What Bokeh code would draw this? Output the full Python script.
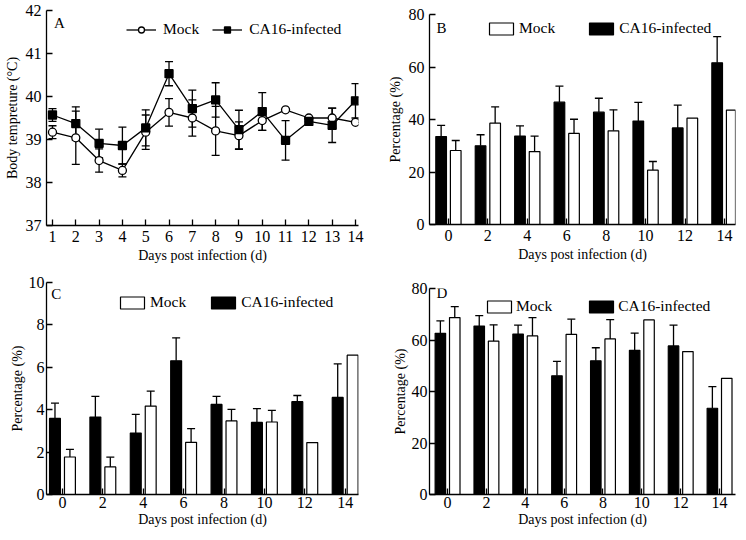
import numpy as np
from bokeh.plotting import figure
from bokeh.models import (ColumnDataSource, Whisker, TeeHead, Legend, LegendItem,
                          FixedTicker, Label, Range1d)
from bokeh.layouts import column, row
from bokeh.embed import file_html
from bokeh.resources import INLINE

FONT = "Liberation Serif"

# ---------------- data ----------------
# Panel A: body temperature (°C)
days_a = list(range(1, 15))
mock_temp = [39.17, 39.04, 38.51, 38.28, 39.17, 39.63, 39.50, 39.20, 39.09, 39.44, 39.69, 39.50, 39.50, 39.40]
mock_temp_sd = [0.15, 0.62, 0.27, 0.15, 0.40, 0.32, 0.42, 0.57, 0.32, 0.23, 0.0, 0.0, 0.23, 0.0]
ca16_temp = [39.57, 39.37, 38.91, 38.86, 39.27, 40.53, 39.72, 39.92, 39.23, 39.65, 38.98, 39.42, 39.33, 39.90]
ca16_temp_sd = [0.15, 0.39, 0.33, 0.43, 0.42, 0.28, 0.43, 0.40, 0.45, 0.44, 0.46, 0.0, 0.40, 0.40]

# Panels B-D: percentages
days_bar = [0, 2, 4, 6, 8, 10, 12, 14]
mock_b = [28.2, 38.6, 27.8, 34.7, 35.7, 20.7, 40.5, 43.6]
mock_b_err = [3.8, 6.2, 5.9, 5.4, 8.0, 3.3, 0.0, 0.0]
ca16_b = [33.5, 30.0, 33.7, 46.6, 42.8, 39.4, 36.8, 61.6]
ca16_b_err = [4.3, 4.2, 3.9, 6.1, 5.3, 7.1, 8.7, 10.0]

mock_c = [1.77, 1.30, 4.17, 2.46, 3.47, 3.42, 2.45, 6.57]
mock_c_err = [0.36, 0.46, 0.71, 0.65, 0.55, 0.55, 0.0, 0.0]
ca16_c = [3.59, 3.65, 2.90, 6.31, 4.25, 3.40, 4.38, 4.58]
ca16_c_err = [0.72, 0.98, 0.88, 1.08, 0.38, 0.65, 0.29, 1.58]

mock_d = [68.7, 59.6, 61.6, 62.2, 60.4, 67.8, 55.5, 45.1]
mock_d_err = [4.3, 6.3, 7.1, 5.9, 7.5, 0.0, 0.0, 0.0]
ca16_d = [62.6, 65.4, 62.3, 46.1, 51.9, 56.0, 57.7, 33.5]
ca16_d_err = [4.8, 4.1, 3.5, 5.6, 5.1, 6.7, 8.1, 8.4]

x_label = "Days post infection (d)"


def style(p, s1, s2):
    p.outline_line_color = None
    p.grid.visible = False
    p.background_fill_color = "white"
    for ax in (p.xaxis[0], p.yaxis[0]):
        ax.major_tick_in = 6
        ax.major_tick_out = 0
        ax.minor_tick_in = 0
        ax.minor_tick_out = 0
        ax.axis_line_width = 1.3
        ax.axis_line_color = "black"
        ax.major_tick_line_width = 1.3
        ax.major_tick_line_color = "black"
        ax.major_label_text_font = FONT
        ax.major_label_text_font_size = "16px"
        ax.major_label_text_color = "black"
        ax.axis_label_text_font = FONT
        ax.axis_label_text_font_size = "14px"
        ax.axis_label_text_font_style = "normal"
        ax.axis_label_text_color = "black"
        ax.major_label_standoff = s1
        ax.axis_label_standoff = s2


def make_fig(w, h, xr, yr, bl, br, bt, bb, s1, s2):
    p = figure(width=w, height=h, x_range=Range1d(*xr), y_range=Range1d(*yr),
               output_backend="svg", toolbar_location=None, title=None,
               min_border_left=bl, min_border_right=br, min_border_top=bt, min_border_bottom=bb)
    style(p, s1, s2)
    return p


def panel_label(p, text, x, y):
    p.add_layout(Label(x=x, y=y, text=text, text_font=FONT, text_font_size="15px",
                       text_color="black", text_align="left", text_baseline="middle"))


# ---------------- panel A ----------------
pA = make_fig(371, 270, (0.743, 14.13), (37, 42), 46, 13, 10, 45, 5, 3)
pA.xaxis.ticker = FixedTicker(ticks=days_a)
pA.yaxis.ticker = FixedTicker(ticks=[37, 38, 39, 40, 41, 42])
pA.xaxis.axis_label = x_label
pA.yaxis.axis_label = "Body tempreture (°C)"

srcA = ColumnDataSource(dict(
    day=days_a,
    mock=mock_temp,
    mock_lo=np.array(mock_temp) - np.array(mock_temp_sd),
    mock_hi=np.array(mock_temp) + np.array(mock_temp_sd),
    ca=ca16_temp,
    ca_lo=np.array(ca16_temp) - np.array(ca16_temp_sd),
    ca_hi=np.array(ca16_temp) + np.array(ca16_temp_sd),
))
for lo, hi in (("mock_lo", "mock_hi"), ("ca_lo", "ca_hi")):
    pA.add_layout(Whisker(base="day", lower=lo, upper=hi, source=srcA, line_width=1.3, line_color="black",
                          upper_head=TeeHead(size=8, line_width=1.3, line_color="black"),
                          lower_head=TeeHead(size=8, line_width=1.3, line_color="black")))
rml = pA.line("day", "mock", source=srcA, line_color="black", line_width=1.3)
rcl = pA.line("day", "ca", source=srcA, line_color="black", line_width=1.3)
rmp = pA.scatter("day", "mock", source=srcA, marker="circle", size=8, fill_color="white",
                 line_color="black", line_width=1.3)
rcp = pA.scatter("day", "ca", source=srcA, marker="square", size=8, fill_color="black",
                 line_color="black", line_width=1.3)
legA = Legend(items=[LegendItem(label="Mock", renderers=[rml, rmp]),
                     LegendItem(label="CA16-infected", renderers=[rcl, rcp])],
              location=(80, 187), orientation="horizontal", glyph_width=30, glyph_height=15,
              label_height=15, label_standoff=7, spacing=13, padding=0, margin=0,
              border_line_color=None, background_fill_alpha=0,
              label_text_font=FONT, label_text_font_size="15.5px", label_text_color="black")
pA.add_layout(legA)
panel_label(pA, "A", 1.06, 41.72)


# ---------------- bar panels ----------------
OFF = 0.37
BW = 0.54


def bar_panel(w, h, xr, yr, yticks, borders, standoffs, mock, mock_err, ca, ca_err, leg_loc,
              leg_spacing, leg_standoff, letter, letter_xy):
    p = make_fig(w, h, xr, yr, *borders, *standoffs)
    p.xaxis.ticker = FixedTicker(ticks=days_bar)
    p.yaxis.ticker = FixedTicker(ticks=yticks)
    p.xaxis.axis_label = x_label
    p.yaxis.axis_label = "Percentage (%)"
    d = np.array(days_bar, dtype=float)
    src = ColumnDataSource(dict(xm=d + OFF, xc=d - OFF, mock=mock, ca=ca))
    rc = p.vbar(x="xc", top="ca", bottom=0, width=BW, source=src, fill_color="black",
                line_color="black", line_width=1.2)
    rm = p.vbar(x="xm", top="mock", bottom=0, width=BW, source=src, fill_color="white",
                line_color="black", line_width=1.2)
    for xs, vals, errs in ((d + OFF, mock, mock_err), (d - OFF, ca, ca_err)):
        keep = [i for i, e in enumerate(errs) if e > 0]
        es = ColumnDataSource(dict(x=[xs[i] for i in keep], lo=[vals[i] for i in keep],
                                   hi=[vals[i] + errs[i] for i in keep]))
        p.add_layout(Whisker(base="x", lower="lo", upper="hi", source=es, line_width=1.3,
                             line_color="black",
                             upper_head=TeeHead(size=8, line_width=1.3, line_color="black"),
                             lower_head=None))
    leg = Legend(items=[LegendItem(label="Mock", renderers=[rm]),
                        LegendItem(label="CA16-infected", renderers=[rc])],
                 location=leg_loc, orientation="horizontal", glyph_width=30, glyph_height=15,
                 label_height=15, label_standoff=leg_standoff, spacing=leg_spacing, padding=0,
                 margin=0, border_line_color=None, background_fill_alpha=0,
                 label_text_font=FONT, label_text_font_size="15.5px", label_text_color="black")
    p.add_layout(leg)
    panel_label(p, letter, *letter_xy)
    return p


pB = bar_panel(365, 270, (-0.96, 14.56), (0, 80), [0, 20, 40, 60, 80], (58, 1, 14, 46), (5, 3),
               mock_b, mock_b_err, ca16_b, ca16_b_err, (57, 187), 31, 3, "B", (-0.6, 75.0))
pC = bar_panel(371, 266, (-0.79, 14.66), (0, 10), [0, 2, 4, 6, 8, 10], (46, 13, 12, 42), (2, 1),
               mock_c, mock_c_err, ca16_c, ca16_c_err, (71, 183), 22, 3, "C", (-0.55, 9.48))
pD = bar_panel(365, 266, (-0.93, 14.82), (0, 80), [0, 20, 40, 60, 80], (58, 1, 18, 42), (2, 1),
               mock_d, mock_d_err, ca16_d, ca16_d_err, (55, 179), 34, 2, "D", (-0.57, 78.3))

layout = row(column(pA, pC), column(pB, pD))
open("out.html", "w").write(file_html(layout, INLINE))
